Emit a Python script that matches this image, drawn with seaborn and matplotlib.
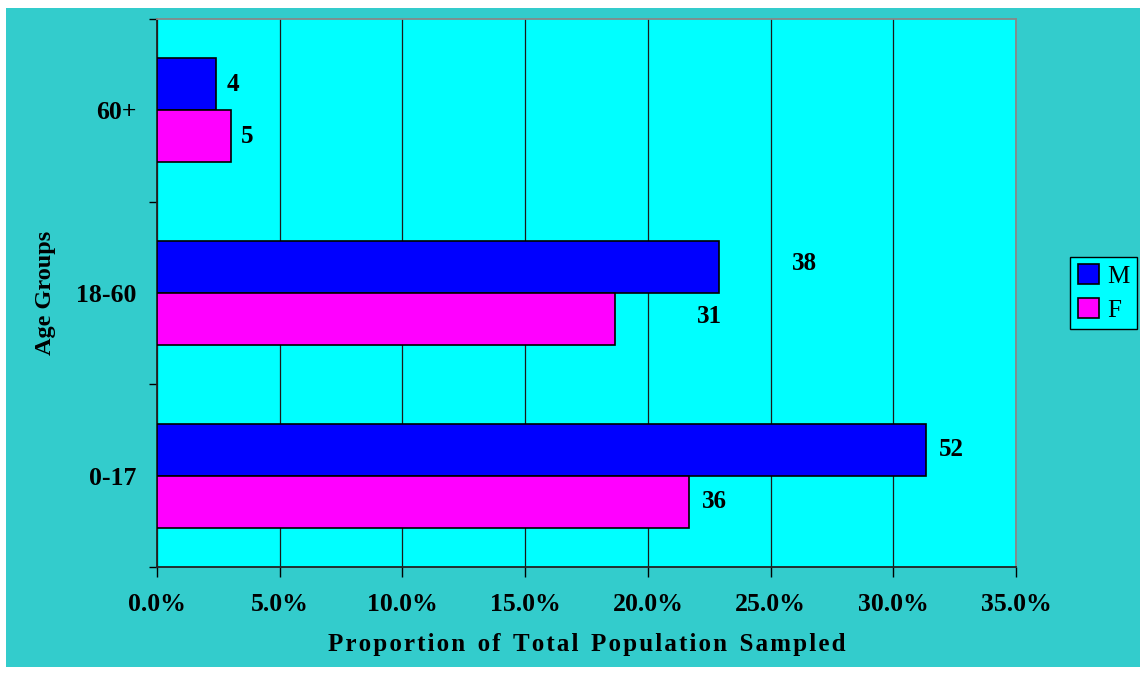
import matplotlib
matplotlib.use("Agg")
import matplotlib.pyplot as plt
from matplotlib.patches import Rectangle
from matplotlib.ticker import FixedLocator, PercentFormatter
import seaborn as sns
import pandas as pd

# Sample counts by age group and sex
age_groups = ["60+", "18-60", "0-17"]
male_counts = [4, 38, 52]
female_counts = [5, 31, 36]
sexes = ["M", "F"]

total = sum(male_counts) + sum(female_counts)

rows = []
for g, m, f in zip(age_groups, male_counts, female_counts):
    rows.append({"Age": g, "Sex": "M", "Count": m, "Share": m / total})
    rows.append({"Age": g, "Sex": "F", "Count": f, "Share": f / total})
df = pd.DataFrame(rows)

sns.set_theme(style="white")
plt.rcParams["font.family"] = ["Liberation Serif", "DejaVu Serif"]
plt.rcParams.update({"text.color": "black", "axes.labelcolor": "black",
                     "xtick.color": "black", "ytick.color": "black"})

TEAL = "#33CCCC"
CYAN = "#00FFFF"
palette = {"M": "#0000FF", "F": "#FF00FF"}

fig = plt.figure(figsize=(11.44, 6.73), dpi=100)
fig.patch.set_facecolor("white")
fig.patches.append(Rectangle((6 / 1144, 6 / 673), 1134 / 1144, 659 / 673,
                             transform=fig.transFigure, facecolor=TEAL,
                             edgecolor="none", zorder=-10))

ax = fig.add_axes([157 / 1144, 1 - 567 / 673, (1016 - 157) / 1144, (567 - 19) / 673])
ax.set_facecolor(CYAN)

sns.barplot(data=df, x="Share", y="Age", hue="Sex", order=age_groups,
            hue_order=sexes, palette=palette, orient="h", width=0.57,
            edgecolor="black", linewidth=1.2, saturation=1, ax=ax,
            legend=True, zorder=3)

ax.set_xlim(0, 0.35)
ax.set_ylim(2.5, -0.5)
ax.xaxis.set_major_locator(FixedLocator([i * 0.05 for i in range(8)]))
ax.xaxis.set_major_formatter(PercentFormatter(xmax=1, decimals=1))
ax.grid(axis="x", color="#1a1a1a", linewidth=0.9, zorder=0)
ax.set_axisbelow(True)

# category boundaries carry the y ticks; names sit between them
ax.yaxis.set_minor_locator(FixedLocator([-0.5, 0.5, 1.5, 2.5]))
ax.tick_params(axis="y", which="major", length=0, pad=15)
ax.tick_params(axis="y", which="minor", length=6, width=1, color="black",
               direction="out", left=True)
ax.tick_params(axis="x", which="major", length=7, width=1, color="black",
               direction="out", bottom=True, pad=12)

for lbl in ax.get_xticklabels() + ax.get_yticklabels():
    lbl.set_fontweight("bold")
    lbl.set_fontsize(18.5)

for side in ["left", "bottom"]:
    ax.spines[side].set_color("#222222")
    ax.spines[side].set_linewidth(1.3)
for side in ["top", "right"]:
    ax.spines[side].set_color("#888888")
    ax.spines[side].set_linewidth(1.3)

xtitle = "P r o p o r t i o n   o f   T o t a l   P o p u l a t i o n   S a m p l e d"
ax.set_xlabel(xtitle.replace("   ", "\u2002").replace(" ", "\u200a"),
              fontsize=18, fontweight="bold", labelpad=12)
ax.set_ylabel("Age Groups", fontsize=17.5, fontweight="bold", labelpad=14)

# count labels beside each bar (18-60 labels sit further right)
nudge = {"60+": (10, 0), "18-60": (73, 3), "0-17": (13, 0)}
for container, sex in zip(ax.containers, sexes):
    counts = male_counts if sex == "M" else female_counts
    for bar, g, c in zip(container, age_groups, counts):
        dx, dy = nudge[g]
        if g == "18-60" and sex == "F":
            dx = 82
        ax.annotate(str(c), (bar.get_width(), bar.get_y() + bar.get_height() / 2),
                    xytext=(dx, dy), textcoords="offset pixels",
                    ha="left", va="center", fontsize=18, fontweight="bold",
                    color="black", zorder=5)

handles, labels = ax.get_legend_handles_labels()
ax.legend(handles, labels, loc="center left", bbox_to_anchor=(1.063, 0.5),
          frameon=True, fancybox=False, facecolor=CYAN, edgecolor="black",
          framealpha=1, fontsize=18, handlelength=0.85, handleheight=0.85,
          handletextpad=0.35, borderpad=0.3, labelspacing=0.4, borderaxespad=0)
ax.get_legend().get_frame().set_linewidth(1.0)

fig.savefig("out.png", dpi=100, facecolor=fig.get_facecolor())
